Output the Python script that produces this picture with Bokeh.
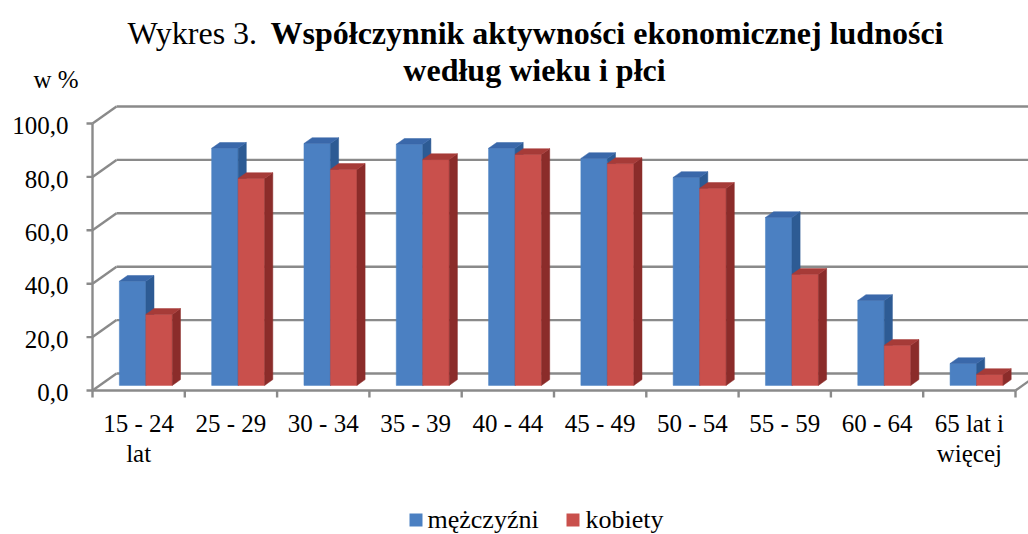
from bokeh.plotting import figure
from bokeh.models import Range1d, ColumnDataSource
from bokeh.core.properties import value
from bokeh.embed import file_html
from bokeh.resources import INLINE

# ---------------- data ----------------
categories = ["15 - 24\nlat", "25 - 29", "30 - 34", "35 - 39", "40 - 44",
              "45 - 49", "50 - 54", "55 - 59", "60 - 64", "65 lat i\nwięcej"]
men = [39.0, 88.8, 90.6, 90.3, 88.8, 85.0, 77.9, 62.9, 31.8, 8.2]
women = [26.6, 77.5, 80.9, 84.6, 86.5, 83.1, 73.8, 41.6, 15.0, 4.1]
series_names = ["mężczyźni", "kobiety"]
y_ticks = [0, 20, 40, 60, 80, 100]
y_tick_labels = ["0,0", "20,0", "40,0", "60,0", "80,0", "100,0"]
title_prefix = "Wykres 3."
title_lines = ["Współczynnik aktywności ekonomicznej ludności", "według wieku i płci"]
y_unit = "w %"

# ---------------- layout / style ----------------
W, H = 1028, 534
OFF_X, OFF_Y = 0, 0                    # page position of the figure
ORIGIN_X, ORIGIN_Y = 92.0, 390.0      # page px of front-plane (category 0, value 0)
PX_CAT, PX_VAL = 92.3, 2.67            # px per category, px per value unit
DEPTH_PX_X, DEPTH_PX_Y = 24.0, 17.0    # 3D depth offset of back wall (px)
FONT = value("Liberation Serif")
BASE_SHIFT = 0.31                      # baseline correction (em)

def X(px):
    return (px - ORIGIN_X) / PX_CAT

def Y(py):
    return (ORIGIN_Y - py) / PX_VAL

def YB(py, size):
    # page baseline -> data y, corrected for renderer's baseline placement
    return Y(py - BASE_SHIFT * size)

DX = DEPTH_PX_X / PX_CAT
DY = DEPTH_PX_Y / PX_VAL

def proj(x, y, d):
    return x + d * DX, y + d * DY

n = len(categories)
ymax = max(y_ticks)

p = figure(width=W, height=H, output_backend="svg", toolbar_location=None, title=None,
           x_range=Range1d(X(OFF_X), X(OFF_X + W)),
           y_range=Range1d(Y(OFF_Y + H), Y(OFF_Y)),
           x_axis_location=None, y_axis_location=None,
           min_border=0, min_border_left=0, min_border_right=0,
           min_border_top=0, min_border_bottom=0)
p.grid.visible = False
p.outline_line_color = None
p.background_fill_color = "white"
p.border_fill_color = "white"

GRID_C = "#8a8a8a"

# back wall gridlines
gx, gy = [], []
for v in y_ticks:
    a = proj(0, v, 1); b = proj(n + 0.5, v, 1)
    gx.append([a[0], b[0]]); gy.append([a[1], b[1]])
# left wall diagonals
for v in y_ticks:
    a = proj(0, v, 0); b = proj(0, v, 1)
    gx.append([a[0], b[0]]); gy.append([a[1], b[1]])
# floor right diagonal
a = proj(n, 0, 0); b = proj(n, 0, 1)
gx.append([a[0], b[0]]); gy.append([a[1], b[1]])
p.multi_line(gx, gy, line_color=GRID_C, line_width=2.4)

# front axes
ax, ay = [], []
ax.append([0, 0]); ay.append([0, ymax])
ax.append([0, n]); ay.append([0, 0])
for v in y_ticks:
    ax.append([0, -6 / PX_CAT]); ay.append([v, v])
for i in range(n + 1):
    ax.append([i, i]); ay.append([0, -7 / PX_VAL])
p.multi_line(ax, ay, line_color=GRID_C, line_width=2.4)

# bars (3D boxes)
BW = 0.287
F0, F1 = 0.30, 0.64
palette = [
    {"front": "#4b80c2", "side": "#2d5b94", "top": "#3a68aa"},
    {"front": "#c9504c", "side": "#8b2c2a", "top": "#a63b38"},
]
xs, ys, cols = [], [], []
for i in range(n):
    vals = [men[i], women[i]]
    start = i + 0.5 - BW
    for s, val in enumerate(vals):
        x0 = start + s * BW
        x1 = x0 + BW
        c = palette[s]
        faces = [
            ([proj(x0, 0, F0), proj(x1, 0, F0), proj(x1, val, F0), proj(x0, val, F0)], c["front"]),
            ([proj(x1, 0, F0), proj(x1, 0, F1), proj(x1, val, F1), proj(x1, val, F0)], c["side"]),
            ([proj(x0, val, F0), proj(x1, val, F0), proj(x1, val, F1), proj(x0, val, F1)], c["top"]),
        ]
        for pts, col in faces:
            xs.append([q[0] for q in pts]); ys.append([q[1] for q in pts]); cols.append(col)
p.patches(xs="xs", ys="ys", fill_color="cols", line_color="cols", line_width=0.5,
          source=ColumnDataSource(dict(xs=xs, ys=ys, cols=cols)))

def txt(x, y, t, size, align="left", bold=False):
    p.text(x=x, y=y, text=t, text_font=FONT, text_font_size=f"{size}px",
           text_font_style="bold" if bold else "normal", text_align=align,
           text_baseline="alphabetic", text_color="black")

# y tick labels (baseline ~10 px below the front tick)
tick_px = [ORIGIN_Y - v * PX_VAL for v in y_ticks]
txt([X(68)] * len(y_ticks), [YB(py + 10, 25) for py in tick_px], y_tick_labels, 25, "right")

# category labels
cx, cy, ct = [], [], []
for i, lab in enumerate(categories):
    for j, line in enumerate(lab.split("\n")):
        cx.append(i + 0.5); cy.append(YB(431 + 30 * j, 25)); ct.append(line)
txt(cx, cy, ct, 25, "center")

# unit label
txt([X(33)], [YB(87, 25)], [y_unit], 25)

# title
txt([X(127)], [YB(42, 32)], [title_prefix], 32)
txt([X(270)], [YB(42, 32)], [title_lines[0]], 32, bold=True)
txt([X(534)], [YB(79, 32)], [title_lines[1]], 32, "center", bold=True)

# legend
leg_sq_x = [X(415.5), X(572.5)]
leg_tx_x = [X(427), X(585)]
p.rect(x=leg_sq_x, y=[Y(519.5)] * 2, width=13, height=13, width_units="screen",
       height_units="screen", fill_color=[palette[0]["front"], palette[1]["front"]], line_color=None)
txt(leg_tx_x, [YB(527, 26)] * 2, series_names, 26)

open("out.html", "w").write(file_html(p, INLINE))
